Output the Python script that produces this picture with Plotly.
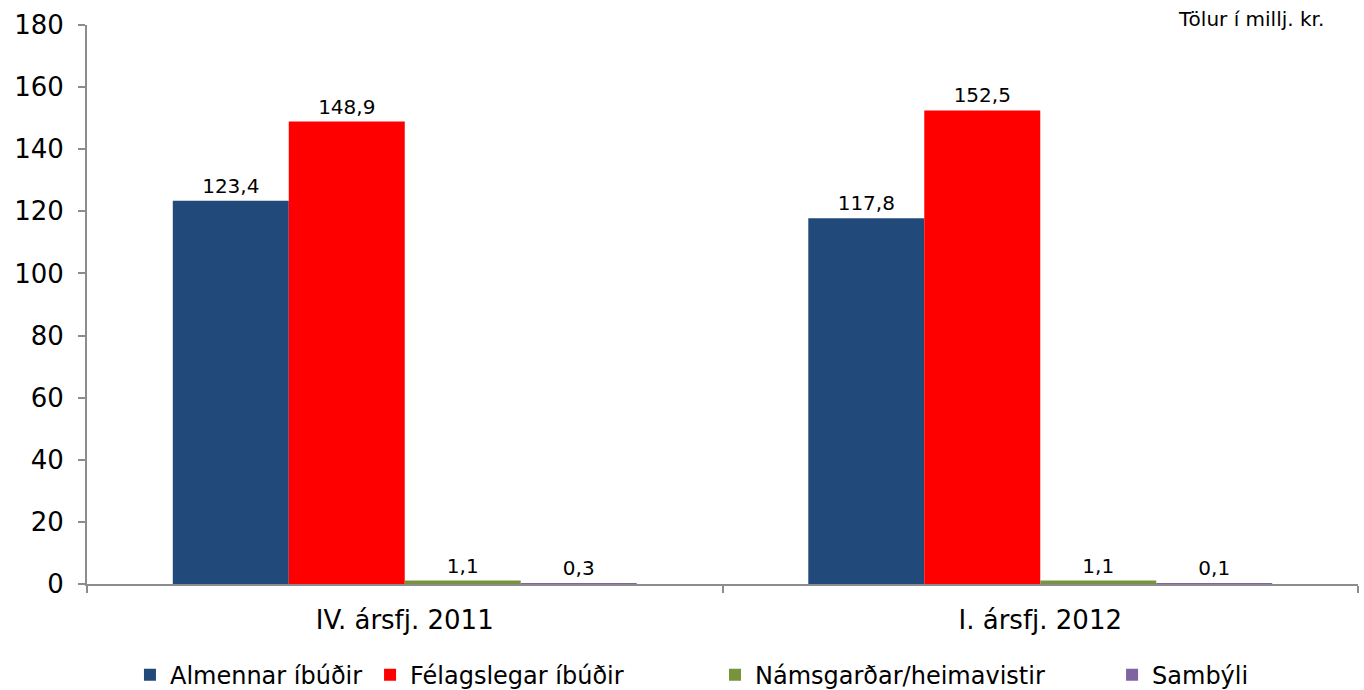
import plotly.graph_objects as go

categories = ["IV. ársfj. 2011", "I. ársfj. 2012"]
series_names = ["Almennar íbúðir", "Félagslegar íbúðir", "Námsgarðar/heimavistir", "Sambýli"]
almennar = [123.4, 117.8]
felagslegar = [148.9, 152.5]
namsgardar = [1.1, 1.1]
sambyli = [0.3, 0.1]
colors = ["#214A7B", "#FF0000", "#77933C", "#8064A2"]

FONT = "Verdana, DejaVu Sans, sans-serif"
legend_ids = ["legend", "legend2", "legend3", "legend4"]
legend_x = [0.0338, 0.2227, 0.4941, 0.8065]

def fmt(v):
    return f"{v:.1f}".replace(".", ",")

fig = go.Figure()
for name, vals, col, lid in zip(series_names, [almennar, felagslegar, namsgardar, sambyli], colors, legend_ids):
    fig.add_trace(go.Bar(
        x=categories, y=vals, name=name, marker_color=col,
        marker_line_width=0, legend=lid,
        text=[fmt(v) for v in vals], textposition="outside",
        textfont=dict(family=FONT, size=20, color="#000000"),
        cliponaxis=False,
    ))

legend_layouts = {}
for lid, lx in zip(legend_ids, legend_x):
    legend_layouts[lid] = dict(orientation="h", x=lx, xanchor="left", y=-0.163, yanchor="middle",
                               font=dict(family=FONT, size=24), itemwidth=30,
                               bgcolor="rgba(0,0,0,0)")

fig.update_layout(
    barmode="group", bargap=0.27, bargroupgap=0,
    width=1364, height=690,
    margin=dict(l=87, r=6, t=25, b=106, autoexpand=False),
    plot_bgcolor="white", paper_bgcolor="white",
    font=dict(family=FONT, color="#000000"),
    showlegend=True,
    annotations=[dict(text="Tölur í millj. kr.", xref="paper", yref="paper",
                      x=0.975, y=1.035, xanchor="right", yanchor="top",
                      showarrow=False, font=dict(family=FONT, size=20))],
    **legend_layouts,
)
fig.update_yaxes(range=[0, 180], dtick=20, showgrid=False, zeroline=False,
                 automargin=False,
                 showline=True, linecolor="#8C8C8C", linewidth=2,
                 ticks="outside", ticklen=7, tickcolor="#8C8C8C", tickwidth=2,
                 tickfont=dict(family=FONT, size=26), ticklabelstandoff=9)
fig.update_xaxes(showline=True, linecolor="#8C8C8C", linewidth=2,
                 automargin=False,
                 ticks="outside", tickson="boundaries", ticklen=7,
                 tickcolor="#8C8C8C", tickwidth=2,
                 tickfont=dict(family=FONT, size=26), ticklabelstandoff=12)

fig.write_html("out.html", config={"displayModeBar": False},
               post_script="document.body.style.margin='0px';document.body.style.overflow='hidden';")
